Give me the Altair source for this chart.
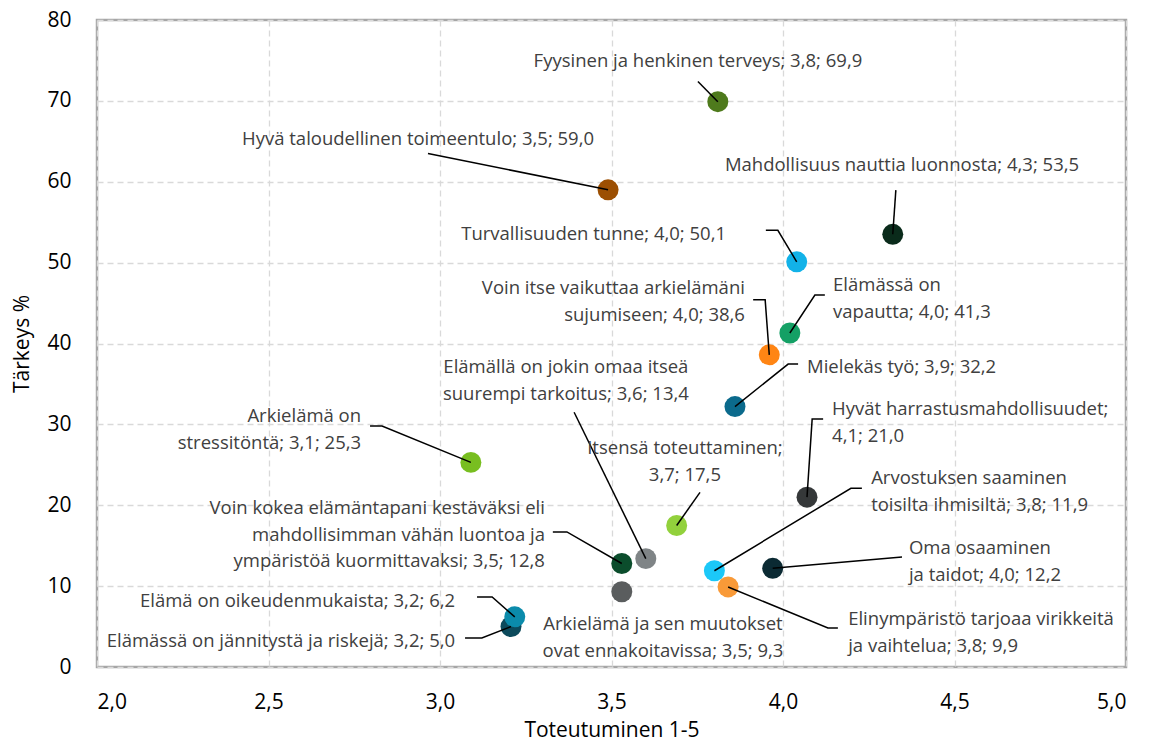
import altair as alt
import pandas as pd

# ---- data ----
names = [
    "Fyysinen ja henkinen terveys; 3,8; 69,9",
    "Hyvä taloudellinen toimeentulo; 3,5; 59,0",
    "Mahdollisuus nauttia luonnosta; 4,3; 53,5",
    "Turvallisuuden tunne; 4,0; 50,1",
    "Voin itse vaikuttaa arkielämäni\nsujumiseen; 4,0; 38,6",
    "Elämässä on\nvapautta; 4,0; 41,3",
    "Mielekäs työ; 3,9; 32,2",
    "Hyvät harrastusmahdollisuudet;\n4,1; 21,0",
    "Arvostuksen saaminen\ntoisilta ihmisiltä; 3,8; 11,9",
    "Elinympäristö tarjoaa virikkeitä\nja vaihtelua; 3,8; 9,9",
    "Oma osaaminen\nja taidot; 4,0; 12,2",
    "Itsensä toteuttaminen;\n3,7; 17,5",
    "Elämällä on jokin omaa itseä\nsuurempi tarkoitus; 3,6; 13,4",
    "Arkielämä on\nstressitöntä; 3,1; 25,3",
    "Voin kokea elämäntapani kestäväksi eli\nmahdollisimman vähän luontoa ja\nympäristöä kuormittavaksi; 3,5; 12,8",
    "Arkielämä ja sen muutokset\novat ennakoitavissa; 3,5; 9,3",
    "Elämässä on jännitystä ja riskejä; 3,2; 5,0",
    "Elämä on oikeudenmukaista; 3,2; 6,2",
]
toteutuminen = [3.81, 3.49, 4.32, 4.04, 3.96, 4.02, 3.86, 4.07, 3.80, 3.84,
                3.97, 3.69, 3.60, 3.09, 3.53, 3.53, 3.207, 3.218]
tarkeys = [69.9, 59.0, 53.5, 50.1, 38.6, 41.3, 32.2, 21.0, 11.9, 9.9,
           12.2, 17.5, 13.4, 25.3, 12.8, 9.3, 5.0, 6.2]
colors = ["#4E7A1C", "#9C4F02", "#0A2B1B", "#12B2E8", "#FF8514", "#14A065",
          "#0B6A8C", "#353839", "#1CC8F8", "#F99A38", "#0B2A33", "#92D13C",
          "#7F8486", "#78BE20", "#0B4D2C", "#5A5D5E", "#0C4A5C", "#0B8BAB"]

x_ticks = [2.0, 2.5, 3.0, 3.5, 4.0, 4.5, 5.0]
y_ticks = [0, 10, 20, 30, 40, 50, 60, 70, 80]

# ---- annotation layout (data units; y = first text line) ----
label_x = [3.752, 2.936, 4.347, 3.834, 3.889, 4.146, 4.070, 4.143, 4.257, 4.190,
           4.367, 3.714, 3.367, 2.770, 3.306, 3.650, 3.044, 3.044]
label_y = [75.15, 65.5, 62.3, 53.8, 47.1, 47.47, 37.3, 32.14, 23.6, 6.18,
           14.96, 27.3, 37.33, 31.27, 19.9, 5.56, 3.46, 8.4]
label_align = ["center", "center", "center", "right", "right", "left", "left", "left",
               "left", "left", "left", "center", "center", "right", "right", "center",
               "right", "right"]
leader_paths = [
    [(3.752, 72.4)],
    [(2.965, 63.5)],
    [(4.329, 58.96)],
    [(3.950, 54.0), (3.985, 54.0)],
    [(3.913, 45.4), (3.948, 45.4)],
    [(4.122, 46.0), (4.093, 46.0)],
    [(4.044, 37.45), (4.015, 37.45)],
    [(4.117, 30.65), (4.085, 30.65)],
    [(4.230, 22.1), (4.198, 22.1)],
    [(4.160, 4.82), (4.131, 4.82)],
    [(4.347, 13.6)],
    [(3.758, 21.6)],
    [(3.391, 31.5)],
    [(2.796, 29.8), (2.831, 29.8)],
    [(3.329, 16.7), (3.370, 16.7)],
    [],
    [(3.073, 3.58), (3.122, 3.58)],
    [(3.108, 8.65), (3.152, 8.65)],
]

pts = pd.DataFrame({"x": toteutuminen, "y": tarkeys, "color": colors,
                    "name": names, "order": list(range(len(names)))})
labs = pd.DataFrame({"x": label_x, "y": label_y, "text": names, "align": label_align})

rows = []
for i, path in enumerate(leader_paths):
    if not path:
        continue
    seq = 0
    for (px, py) in path:
        rows.append({"id": i, "seq": seq, "x": px, "y": py})
        seq += 1
    rows.append({"id": i, "seq": seq, "x": toteutuminen[i], "y": tarkeys[i]})
lead = pd.DataFrame(rows)

FONT = "Open Sans"
xscale = alt.Scale(domain=[2, 5], nice=False, zero=False)
yscale = alt.Scale(domain=[0, 80], nice=False)

xenc = alt.X("x:Q", scale=xscale, title="Toteutuminen 1-5",
             axis=alt.Axis(values=x_ticks,
                           labelExpr="replace(format(datum.value, '.1f'), '.', ',')",
                           labelPadding=24, titleY=63, titleBaseline="middle"))
yenc = alt.Y("y:Q", scale=yscale, title="Tärkeys %",
             axis=alt.Axis(values=y_ticks, labelPadding=26, titleAngle=270,
                           titleX=-75, titleY=323.5, titleBaseline="middle"))

points = alt.Chart(pts).mark_circle(size=440, opacity=1).encode(
    x=xenc, y=yenc, color=alt.Color("color:N", scale=None), order="order:Q")

lines = alt.Chart(lead).mark_line(color="#000000", strokeWidth=1.5).encode(
    x="x:Q", y="y:Q", detail="id:N", order="seq:Q")

text_layers = []
for al in ["left", "center", "right"]:
    sub = labs[labs["align"] == al]
    text_layers.append(
        alt.Chart(sub).mark_text(align=al, baseline="middle", font=FONT, fontSize=18.5,
                                 dy=2, color="#404040", lineBreak="\n",
                                 lineHeight=26.5).encode(
            x="x:Q", y="y:Q", text="text:N"))

chart = alt.layer(points, lines, *text_layers).properties(
    width=1029, height=647,
    autosize=alt.AutoSizeParams(type="none"),
    padding={"left": 89, "top": 12, "right": 10, "bottom": 76},
).configure_view(stroke="#A6A6A6", strokeWidth=2.5).configure_axis(
    grid=True, gridColor="#D9D9D9", gridDash=[6, 4], gridWidth=1.3,
    domain=False, ticks=False,
    labelFont=FONT, labelFontSize=21, labelColor="#000000",
    titleFont=FONT, titleFontSize=21, titleFontWeight="normal", titleColor="#000000",
)

chart.save("out.html", embed_options={"renderer": "svg", "actions": False})
